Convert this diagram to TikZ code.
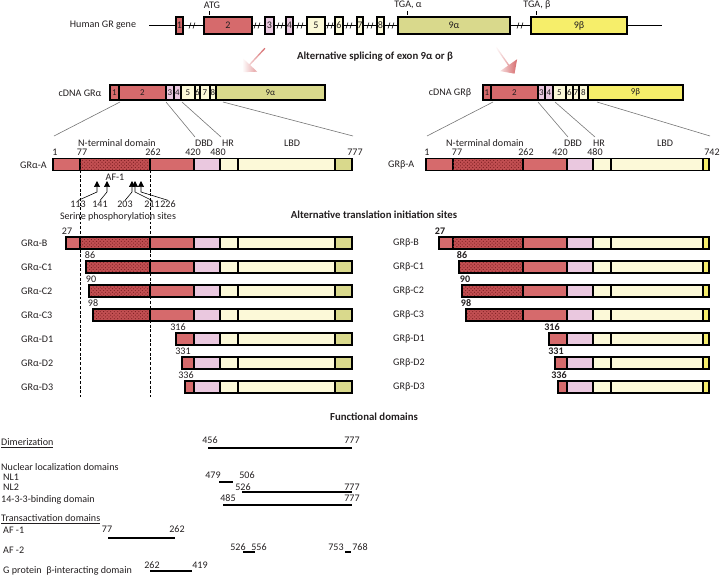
\documentclass[tikz,border=0pt]{standalone}
\usepackage{fontspec}
\setmainfont{Carlito}
\usetikzlibrary{shapes.arrows,arrows.meta,patterns}

\definecolor{grred}{HTML}{D66A6C}
\definecolor{grdot}{HTML}{C24F52}
\definecolor{grdotfg}{HTML}{7A1D20}
\definecolor{grpink}{HTML}{EAC8DF}
\definecolor{grcream}{HTML}{FCF9D8}
\definecolor{grolive}{HTML}{D9D98C}
\definecolor{gryellow}{HTML}{F6EE6A}
\definecolor{grtext}{HTML}{231F20}

\tikzset{
  seg/.style={draw=black, line width=0.9pt},
  dotseg/.style={seg, fill=grdot, postaction={pattern=crosshatch dots, pattern color=grdotfg}},
  barline/.style={draw=black, line width=1.4pt},
  exonbox/.style={draw=black, line width=1pt},
  zoomline/.style={draw=black!55, line width=0.5pt},
  txt/.style={inner sep=0pt, text=grtext},
  small/.style={txt, font=\fontsize{7.6}{8}\selectfont},
  head/.style={txt, font=\fontsize{9.2}{10}\selectfont\bfseries},
  bnum/.style={txt, font=\fontsize{8.6}{10}\selectfont\bfseries},
  splarrow/.style={single arrow, minimum height=0.98cm, minimum width=0.62cm,
    single arrow head extend=0.1cm, inner sep=0pt, left color=white, right color=grred},
  domline/.style={line width=1pt},
}

% one protein isoform: y, start, end of LBD, end, colour of the last box
\newcommand{\grbar}[5]{%
  \pgfmathsetmacro{\dotx}{max(#2,80)}%
  \pgfmathsetmacro{\redx}{max(#2,150)}%
  \ifnum#2<80 \filldraw[seg,fill=grred] (#2,#1-6) rectangle (80,#1+6);\fi
  \ifnum#2<150 \filldraw[dotseg] (\dotx,#1-6) rectangle (150,#1+6);\fi
  \filldraw[seg,fill=grred] (\redx,#1-6) rectangle (194,#1+6);
  \filldraw[seg,fill=grpink] (194,#1-6) rectangle (220,#1+6);
  \filldraw[seg,fill=grcream] (220,#1-6) rectangle (238,#1+6);
  \filldraw[seg,fill=grcream] (238,#1-6) rectangle (#3,#1+6);
  \filldraw[seg,fill=#5] (#3,#1-6) rectangle (#4,#1+6);
  \draw[barline] (#2,#1-6) rectangle (#4,#1+6);
}

\begin{document}
\begin{tikzpicture}[x=0.03cm, y=-0.03cm, font=\fontsize{8.6}{10}\selectfont]
	\useasboundingbox (0,0) rectangle (720,577);

	% Gene
	\node[txt] (gene) at (103,25.5) {Human GR gene};
	\draw[line width=1.2pt] (149,25.5) -- (662,25.5);
	\foreach \x in {192,257,280,300,330,349,370,391,520}
		\draw[line width=0.5pt] (\x-3,28.5) -- (\x-1,22.5) (\x+1,28.5) -- (\x+3,22.5);
	\foreach \a/\b/\c/\t [count=\i] in {176/183/grred/1, 204/252/grred/2, 265/274/grpink/3, 286/293/grpink/4, 307/325/grcream/5, 335/343/grcream/6, 357/363/grcream/7, 377/384/grcream/8, 398/510/grolive/9α, 531/627/gryellow/9β}
	{
		\filldraw[exonbox, fill=\c] (\a,17) rectangle (\b,34);
		\node[txt] (ex\i) at ({(\a+\b)/2},25.5) {\t};
	}
	\node[txt] (atg) at (212,5) {ATG};
	\node[txt] (tgaa) at (408,5) {TGA, α};
	\node[txt] (tgab) at (537,5) {TGA, β};
	\draw[line width=0.6pt] (209,11) -- (209,15) (407,11) -- (407,15) (536,11) -- (536,15);

	% Splicing
	\node[splarrow, rotate=-133] (arra) at (254,60) {};
	\node[splarrow, rotate=-55] (arrb) at (505,60) {};
	\node[head] (splice) at (375,57) {Alternative splicing of exon 9α or β};

	% cDNA
	\node[txt] (cdnaa) at (80,93) {cDNA GRα};
	\foreach \a/\b/\c/\t [count=\i] in {110/119/grred/1, 119/166/grred/2, 166/174/grpink/3, 174/181/grpink/4, 181/195/grcream/5, 195/200/grcream/6, 200/210/grcream/7, 210/216/grcream/8, 216/325/grolive/9α}
	{
		\filldraw[seg, fill=\c] (\a,85) rectangle (\b,100);
		\node[small] (ca\i) at ({(\a+\b)/2},92.5) {\t};
	}
	\draw[barline] (110,85) rectangle (325,100);
	\node[txt] (cdnab) at (450,93) {cDNA GRβ};
	\foreach \a/\b/\c/\t [count=\i] in {483/491/grred/1, 491/538/grred/2, 538/545/grpink/3, 545/553/grpink/4, 553/566/grcream/5, 566/573/grcream/6, 573/579/grcream/7, 579/588/grcream/8, 588/683/gryellow/9β}
	{
		\filldraw[seg, fill=\c] (\a,85) rectangle (\b,100);
		\node[small] (cb\i) at ({(\a+\b)/2},92.5) {\t};
	}
	\draw[barline] (483,85) rectangle (683,100);

	% Zoom lines
	\draw[zoomline] (120,102) -- (54,136) (166,102) -- (195,137) (182,102) -- (221,137) (223,102) -- (353,136);
	\draw[zoomline] (493,102) -- (427,136) (538,102) -- (568,137) (555,102) -- (595,137) (597,102) -- (710,136);

	% Domain labels
	\node[txt] (ntda) at (117,143) {N-terminal domain};
	\node[txt] (dbda) at (204,143) {DBD};
	\node[txt] (hra) at (228,143) {HR};
	\node[txt] (lbda) at (292,143) {LBD};
	\foreach \x/\t in {55/1, 82/77, 153/262, 193/420, 218/480, 355/777}
		\node[txt] at (\x,152) {\t};
	\node[txt] (ntdb) at (485,143) {N-terminal domain};
	\node[txt] (dbdb) at (573,143) {DBD};
	\node[txt] (hrb) at (599,143) {HR};
	\node[txt] (lbdb) at (665,143) {LBD};
	\foreach \x/\t in {427/1, 457/77, 526/262, 560/420, 595/480, 712/742}
		\node[txt] at (\x,152) {\t};

	% Dashed guides
	\draw[dashed, dash pattern=on 2.5pt off 1.5pt, line width=0.5pt] (80,170) -- (80,397) (150,170) -- (150,397);

	% GR-A
	\node[txt, anchor=west] (laA) at (20,165) {GRα-A};
	\grbar{164.5}{53}{335}{352}{grolive}
	\node[txt, anchor=west] (lbA) at (388,165) {GRβ-A};
	\begin{scope}[shift={(373,0)}]
		\grbar{164.5}{53}{330}{336}{gryellow}
	\end{scope}

	% Phosphorylation sites
	\node[txt] (af1) at (115,177) {AF-1};
	\foreach \tx/\nx/\t [count=\i] in {97/78/113, 107/100/141, 132/125/203, 135/152/211, 141/168/226}
	{
		\node[txt] (ph\i) at (\nx,204) {\t};
		\draw[line width=0.5pt, -{Triangle[width=5pt,length=5pt]}] (ph\i.north) -- (\tx,192) -- (\tx,181);
	}
	\node[txt] (serine) at (118,217) {Serine phosphorylation sites};
	\node[head] (transl) at (374,215) {Alternative translation initiation sites};

	% Isoforms
	\foreach \y/\s in {243/66, 267/86, 291/89, 315/93, 339/176, 363/182, 387/185}
	{
		\grbar{\y}{\s}{335}{352}{grolive}
		\begin{scope}[shift={(373,0)}]
			\grbar{\y}{\s}{330}{336}{gryellow}
		\end{scope}
	}
	\foreach \y/\n/\t/\xa/\xb in {243/B/27/67/440, 267/C1/86/90/462, 291/C2/90/91/465, 315/C3/98/93/466, 339/D1/316/178/552, 363/D2/331/183/556, 387/D3/336/186/559}
	{
		\node[txt, anchor=west] (la\n) at (21,\y) {GRα-\n};
		\node[txt] (sa\n) at (\xa,\y-11.5) {\t};
		\node[txt, anchor=west] (lb\n) at (393,\y) {GRβ-\n};
		\node[bnum] (sb\n) at (\xb,\y-11.5) {\t};
	}

	% Functional domains
	\node[head] (func) at (374,417) {Functional domains};
	\node[txt, anchor=west] (dim) at (1,443) {\underline{Dimerization}};
	\node[txt] (d1) at (210,440) {456};
	\node[txt] (d2) at (352,440) {777};
	\draw[line width=1.3pt] (208,448) -- (352,448);
	\node[txt, anchor=west] (nld) at (1,467) {Nuclear localization domains};
	\node[txt, anchor=west] (nl1) at (3,477) {NL1};
	\node[txt, anchor=west] (nl2) at (3,487) {NL2};
	\node[txt] (n1a) at (213,475) {479};
	\node[txt] (n1b) at (247,475) {506};
	\draw[line width=1.6pt] (219,482) -- (233,482);
	\node[txt] (n2a) at (243,487) {526};
	\node[txt] (n2b) at (352,487) {777};
	\draw[domline] (242,492) -- (352,492);
	\node[txt, anchor=west] (bind) at (1,500) {14-3-3-binding domain};
	\node[txt] (b1) at (228,498) {485};
	\node[txt] (b2) at (352,498) {777};
	\draw[domline] (223,505) -- (352,505);
	\node[txt, anchor=west] (tad) at (1,519) {\underline{Transactivation domains}};
	\node[txt, anchor=west] (taf1) at (3,530) {AF -1};
	\node[txt] (f1a) at (107,529) {77};
	\node[txt] (f1b) at (177,529) {262};
	\draw[domline] (108,538) -- (175,538);
	\node[txt, anchor=west] (taf2) at (3,550) {AF -2};
	\node[txt] (f2a) at (238,547) {526};
	\node[txt] (f2b) at (259,547) {556};
	\draw[domline] (243,552) -- (255,552);
	\node[txt] (f3a) at (336,547) {753};
	\node[txt] (f3b) at (360,547) {768};
	\draw[line width=1.6pt] (345,552) -- (351,552);
	\node[txt, anchor=west] (gprot) at (3,571) {G protein~ β-interacting domain};
	\node[txt] (g1) at (152,565) {262};
	\node[txt] (g2) at (200,565) {419};
	\draw[domline] (150,571) -- (192,571);
\end{tikzpicture}
\end{document}
